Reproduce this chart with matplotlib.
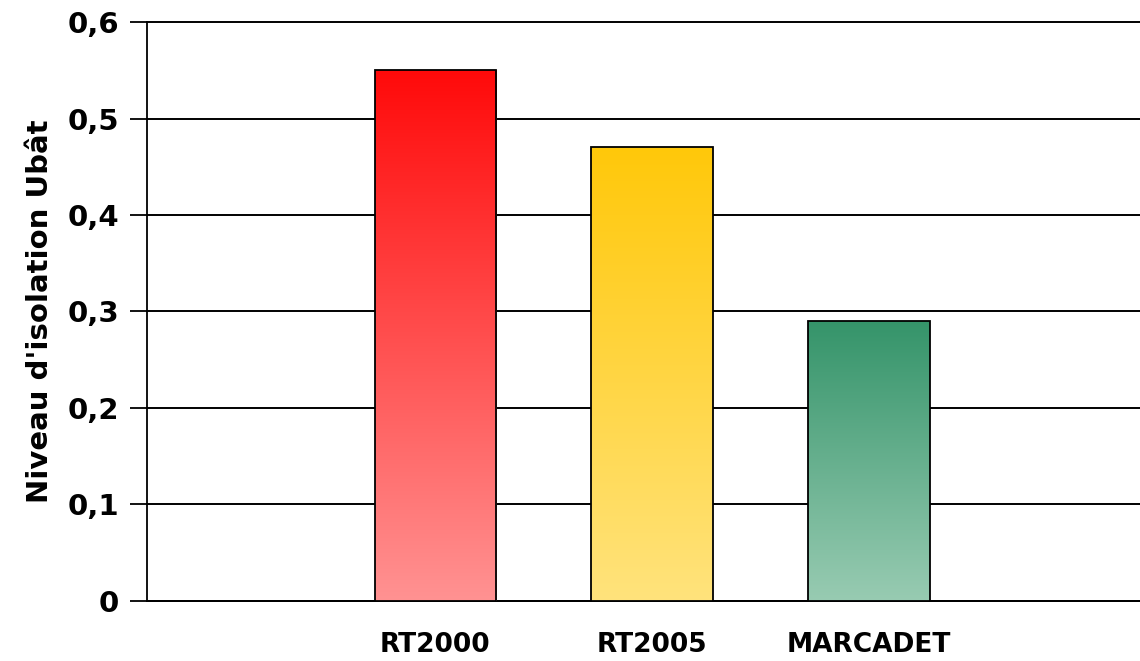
import numpy as np
import matplotlib
matplotlib.use('Agg')
import matplotlib.pyplot as plt
from matplotlib.colors import LinearSegmentedColormap
from matplotlib.ticker import FuncFormatter

# Data
categories = ['RT2000', 'RT2005', 'MARCADET']
values = [0.55, 0.47, 0.29]
top_colors = ['#FF0A0A', '#FFC80A', '#35946A']
bottom_colors = ['#FF9292', '#FFE37C', '#98CBB2']

plt.rcParams['font.family'] = ['DejaVu Sans']
plt.rcParams['font.weight'] = 'bold'

fig = plt.figure(figsize=(11.4, 6.61), dpi=100)
ax = fig.add_axes([0.129, 0.0908, 0.871, 0.8759])

x = np.arange(len(categories))
width = 0.56
bars = ax.bar(x, values, width=width, facecolor='none', edgecolor='black',
              linewidth=1.3, zorder=4)

# gradient fill for each bar
for bar, c_top, c_bot in zip(bars, top_colors, bottom_colors):
    cmap = LinearSegmentedColormap.from_list('g', [c_bot, c_top])
    x0, y0 = bar.get_x(), bar.get_y()
    w, h = bar.get_width(), bar.get_height()
    grad = np.linspace(0, 1, 256).reshape(-1, 1)
    im = ax.imshow(grad, cmap=cmap, aspect='auto', origin='lower',
                   extent=[x0, x0 + w, y0, y0 + h], zorder=3)
    im.set_clip_path(bar)

ax.set_xlim(-1.33, 3.25)
ax.set_ylim(0, 0.6)
ax.set_yticks(np.arange(0, 0.61, 0.1))
ax.yaxis.set_major_formatter(FuncFormatter(
    lambda v, p: '0' if abs(v) < 1e-9 else f'{v:.1f}'.replace('.', ',')))
ax.set_xticks(x)
ax.set_xticklabels(categories, fontsize=19, fontweight='bold')
ax.tick_params(axis='x', length=0, pad=22)
ax.tick_params(axis='y', direction='out', length=12, width=1.3,
               labelsize=21, pad=8)

ax.yaxis.grid(True, color='black', linewidth=1.4, zorder=1)
for gl in ax.get_ygridlines():
    gl.set_clip_on(False)
ax.set_axisbelow(True)
for s in ['top', 'right']:
    ax.spines[s].set_visible(False)
ax.spines['left'].set_linewidth(1.3)
ax.spines['bottom'].set_linewidth(1.4)

ax.set_ylabel("Niveau d'isolation Ubât", fontsize=21, fontweight='bold',
              labelpad=10)

fig.savefig('out.png', dpi=100)
